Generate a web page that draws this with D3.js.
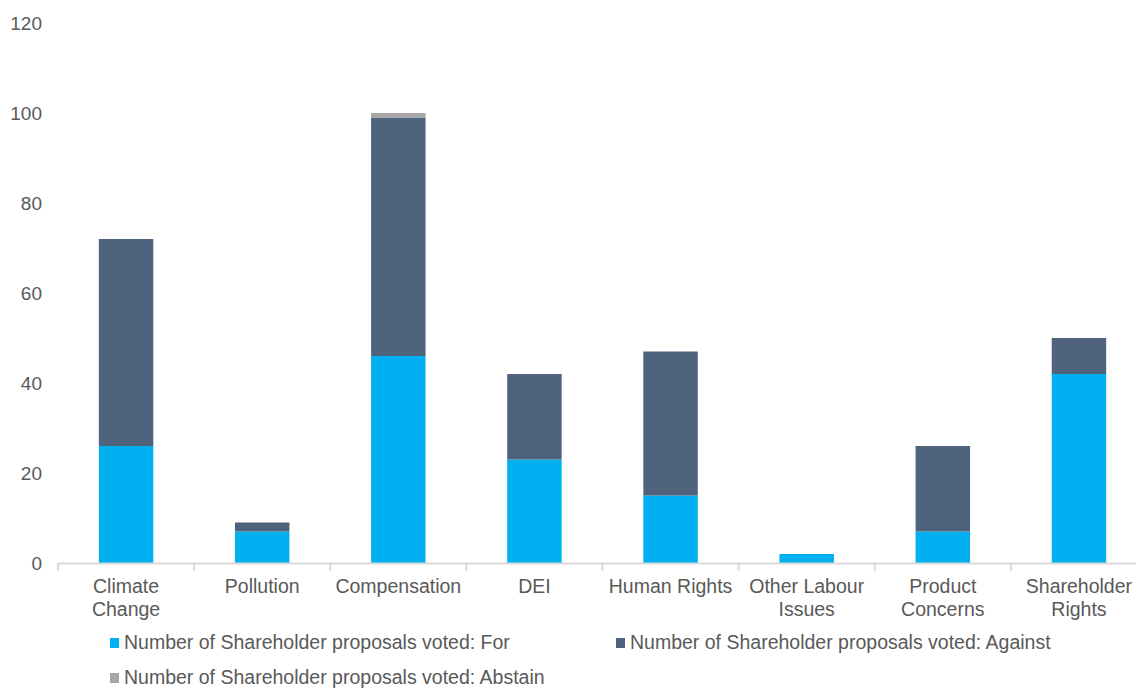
<!DOCTYPE html>
<html>
<head>
<meta charset="utf-8">
<script src="https://cdn.jsdelivr.net/npm/d3@7"></script>
<style>
  body { margin: 0; background: #fff; }
  text { font-family: "Liberation Sans", Arial, sans-serif; fill: #595959; }
</style>
</head>
<body>
<svg id="chart" width="1136" height="688"></svg>
<script>
// data
const categories = ["Climate Change", "Pollution", "Compensation", "DEI", "Human Rights", "Other Labour Issues", "Product Concerns", "Shareholder Rights"];
const votedFor = [26, 7, 46, 23, 15, 2, 7, 42];
const votedAgainst = [46, 2, 53, 19, 32, 0, 19, 8];
const votedAbstain = [0, 0, 1, 0, 0, 0, 0, 0];
const seriesNames = ["Number of Shareholder proposals voted: For", "Number of Shareholder proposals voted: Against", "Number of Shareholder proposals voted: Abstain"];
const seriesColors = ["#00b0f0", "#4f637c", "#a6a6a6"];
const yTicks = [0, 20, 40, 60, 80, 100, 120];

// wrapped labels for the x axis
const labelLines = {
  "Climate Change": ["Climate", "Change"],
  "Pollution": ["Pollution"],
  "Compensation": ["Compensation"],
  "DEI": ["DEI"],
  "Human Rights": ["Human Rights"],
  "Other Labour Issues": ["Other Labour", "Issues"],
  "Product Concerns": ["Product", "Concerns"],
  "Shareholder Rights": ["Shareholder", "Rights"]
};

const svg = d3.select("svg#chart");
const margin = { left: 58, top: 23 };
const width = 1089;   // plot runs a little past the right edge, like the original
const height = 540;

const g = svg.append("g").attr("transform", `translate(${margin.left}, ${margin.top})`);

const x = d3.scaleBand().domain(categories).range([0, width]).paddingInner(0.6).paddingOuter(0.3);
const y = d3.scaleLinear().domain([0, 120]).range([height, 0]);

// stack the three series
const rows = categories.map((c, i) => ({ cat: c, f: votedFor[i], a: votedAgainst[i], b: votedAbstain[i] }));
const stacked = d3.stack().keys(["f", "a", "b"])(rows);

g.selectAll("g.series")
  .data(stacked)
  .join("g")
  .attr("class", "series")
  .attr("fill", (d, i) => seriesColors[i])
  .selectAll("rect")
  .data(d => d)
  .join("rect")
  .attr("x", d => x(d.data.cat))
  .attr("y", d => y(d[1]))
  .attr("width", x.bandwidth())
  .attr("height", d => y(d[0]) - y(d[1]));

// y axis labels (no line)
g.selectAll("text.ytick")
  .data(yTicks)
  .join("text")
  .attr("class", "ytick")
  .attr("x", -16)
  .attr("y", d => y(d))
  .attr("dy", "0.36em")
  .attr("text-anchor", "end")
  .style("font-size", "19px")
  .text(d => d);

// x axis line and tick marks between categories
const step = x.step();
g.append("line")
  .attr("x1", 0).attr("x2", width)
  .attr("y1", y(0) + 0.5).attr("y2", y(0) + 0.5)
  .attr("stroke", "#d9d9d9").attr("stroke-width", 2);

g.selectAll("line.xtick")
  .data(d3.range(categories.length + 1))
  .join("line")
  .attr("class", "xtick")
  .attr("x1", i => i * step).attr("x2", i => i * step)
  .attr("y1", y(0)).attr("y2", y(0) + 8)
  .attr("stroke", "#d9d9d9").attr("stroke-width", 2);

const xl = g.selectAll("text.xlabel")
  .data(categories)
  .join("text")
  .attr("class", "xlabel")
  .attr("text-anchor", "middle")
  .attr("x", d => x(d) + x.bandwidth() / 2)
  .attr("y", y(0) + 30)
  .style("font-size", "19.5px");

xl.selectAll("tspan")
  .data(d => labelLines[d].map(t => ({ t, xc: x(d) + x.bandwidth() / 2 })))
  .join("tspan")
  .attr("x", d => d.xc)
  .attr("dy", (d, i) => i === 0 ? 0 : 22.5)
  .text(d => d.t);

// legend
const legendPos = [[110, 649], [616, 649], [110, 684]];
const legend = svg.selectAll("g.legend")
  .data(seriesNames)
  .join("g")
  .attr("class", "legend")
  .attr("transform", (d, i) => `translate(${legendPos[i][0]}, ${legendPos[i][1]})`);

legend.append("rect")
  .attr("x", 0).attr("y", -11)
  .attr("width", 9).attr("height", 10)
  .attr("fill", (d, i) => seriesColors[i]);

legend.append("text")
  .attr("x", 14).attr("y", 0)
  .style("font-size", "19.5px")
  .text(d => d);
</script>
</body>
</html>
